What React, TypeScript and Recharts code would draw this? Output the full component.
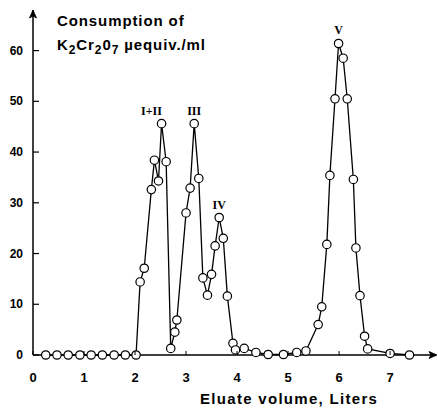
import { Line, LineChart, XAxis, YAxis, LabelList, ReferenceDot } from "recharts";

// eluate volume (liters) and K2Cr2O7 consumption (µequiv/ml)
const volumes = [
  0.25, 0.47, 0.69, 0.92, 1.14, 1.36, 1.59, 1.81, 2.02,
  2.1, 2.18, 2.32, 2.38, 2.46, 2.52, 2.61, 2.7, 2.78, 2.82,
  3.0, 3.08, 3.16, 3.25, 3.33, 3.42, 3.5, 3.57, 3.65, 3.73, 3.81, 3.92, 3.97,
  4.14, 4.37, 4.61, 4.91, 5.17, 5.35,
  5.59, 5.66, 5.76, 5.82, 5.92, 5.99, 6.08, 6.16, 6.28, 6.33, 6.41, 6.5, 6.56,
  7.0, 7.38,
];
const consumption = [
  0, 0, 0, 0, 0, 0, 0, 0, 0,
  14.4, 17.1, 32.6, 38.4, 34.3, 45.6, 38.1, 1.3, 4.5, 6.9,
  28.0, 32.9, 45.6, 34.8, 15.2, 11.8, 15.9, 21.5, 27.1, 23.0, 11.6, 2.3, 1.0,
  1.3, 0.5, 0.1, 0.1, 0.5, 0.8,
  6.0, 9.5, 21.8, 35.4, 50.5, 61.4, 58.5, 50.5, 34.6, 21.1, 11.7, 3.7, 1.2,
  0.3, 0,
];
const peakNames = ["I+II", "III", "IV", "V"];
const peakVolumes = [2.52, 3.16, 3.65, 5.99];
const xTicks = [0, 1, 2, 3, 4, 5, 6, 7];
const yTicks = [0, 10, 20, 30, 40, 50, 60];
const xMax = 7.9;
const yMax = 68;

const data = volumes.map((v, i) => {
  const p = peakVolumes.indexOf(v);
  return { v, c: consumption[i], peak: p >= 0 ? peakNames[p] : "" };
});

const font = "'Liberation Sans', Arial, sans-serif";

const PeakLabel = (props: any) => {
  const { x, y, value } = props;
  if (!value) return null;
  const dx = value === "I+II" ? -10 : 0;
  return (
    <text
      x={x + dx}
      y={y - 9}
      textAnchor="middle"
      fontFamily="'Liberation Serif', 'DejaVu Serif', serif"
      fontWeight="bold"
      fontSize={12}
      fill="#000"
    >
      {value}
    </text>
  );
};

// tick mark points inward, label sits outside
const XTick = (props: any) => {
  const { x, y, payload } = props;
  return (
    <g>
      <line x1={x} x2={x} y1={y - 4} y2={y} stroke="#000" strokeWidth={1} />
      <text x={x} y={y + 27} textAnchor="middle" fontFamily={font} fontWeight="bold" fontSize={13} fill="#000">
        {payload.value}
      </text>
    </g>
  );
};

const YTick = (props: any) => {
  const { x, y, payload } = props;
  return (
    <g>
      <line x1={x + 10} x2={x + 16} y1={y} y2={y} stroke="#000" strokeWidth={1.2} />
      <text x={x} y={y + 4} textAnchor="end" fontFamily={font} fontWeight="bold" fontSize={12} fill="#000">
        {payload.value}
      </text>
    </g>
  );
};

const UpArrow = (props: any) => {
  const { cx, cy } = props;
  return (
    <path
      d={`M${cx},${cy} L${cx - 3.5},${cy + 8} L${cx},${cy + 6} L${cx + 3.5},${cy + 8} Z`}
      fill="#000"
      stroke="#000"
      strokeWidth={0.8}
    />
  );
};

const RightArrow = (props: any) => {
  const { cx, cy } = props;
  return (
    <path
      d={`M${cx + 1},${cy} L${cx - 7},${cy - 3.5} L${cx - 5},${cy} L${cx - 7},${cy + 3.5} Z`}
      fill="#000"
      stroke="#000"
      strokeWidth={0.8}
    />
  );
};

export default function App() {
  return (
    <div style={{ position: "absolute", left: 0, top: 0, width: 438, height: 408, background: "#fff" }}>
      <LineChart
        width={438}
        height={408}
        data={data}
        margin={{ top: 10, right: 2, bottom: 23, left: 0 }}
      >
        <XAxis
          type="number"
          dataKey="v"
          domain={[0, xMax]}
          ticks={xTicks}
          height={30}
          tickSize={0}
          tickMargin={0}
          axisLine={{ stroke: "#000", strokeWidth: 1.5 }}
          tickLine={false}
          tick={<XTick />}
        />
        <YAxis
          type="number"
          dataKey="c"
          domain={[0, yMax]}
          ticks={yTicks}
          width={33}
          tickSize={0}
          tickMargin={10}
          axisLine={{ stroke: "#000", strokeWidth: 1.5 }}
          tickLine={false}
          tick={<YTick />}
        />
        <Line
          type="linear"
          dataKey="c"
          stroke="#000"
          strokeWidth={1.3}
          dot={{ r: 4.2, fill: "#fff", stroke: "#000", strokeWidth: 1.2 }}
          isAnimationActive={false}
        >
          <LabelList dataKey="peak" content={<PeakLabel />} />
        </Line>
        <ReferenceDot x={0} y={yMax} r={4} ifOverflow="visible" shape={<UpArrow />} />
        <ReferenceDot x={xMax} y={0} r={4} ifOverflow="visible" shape={<RightArrow />} />
      </LineChart>
      <div
        style={{
          position: "absolute",
          left: 57,
          top: 9,
          fontFamily: font,
          fontWeight: "bold",
          fontSize: 15,
          lineHeight: "24px",
          letterSpacing: 0.9,
          color: "#000",
          whiteSpace: "nowrap",
        }}
      >
        <div>Consumption of</div>
        <div>
          K<sub style={{ fontSize: 12 }}>2</sub>Cr<sub style={{ fontSize: 12 }}>2</sub>0
          <sub style={{ fontSize: 12 }}>7</sub> µequiv./ml
        </div>
      </div>
      <div
        style={{
          position: "absolute",
          left: 200,
          top: 390,
          fontFamily: font,
          fontWeight: "bold",
          fontSize: 15,
          letterSpacing: 1.3,
          color: "#000",
          whiteSpace: "nowrap",
        }}
      >
        Eluate volume, Liters
      </div>
    </div>
  );
}
